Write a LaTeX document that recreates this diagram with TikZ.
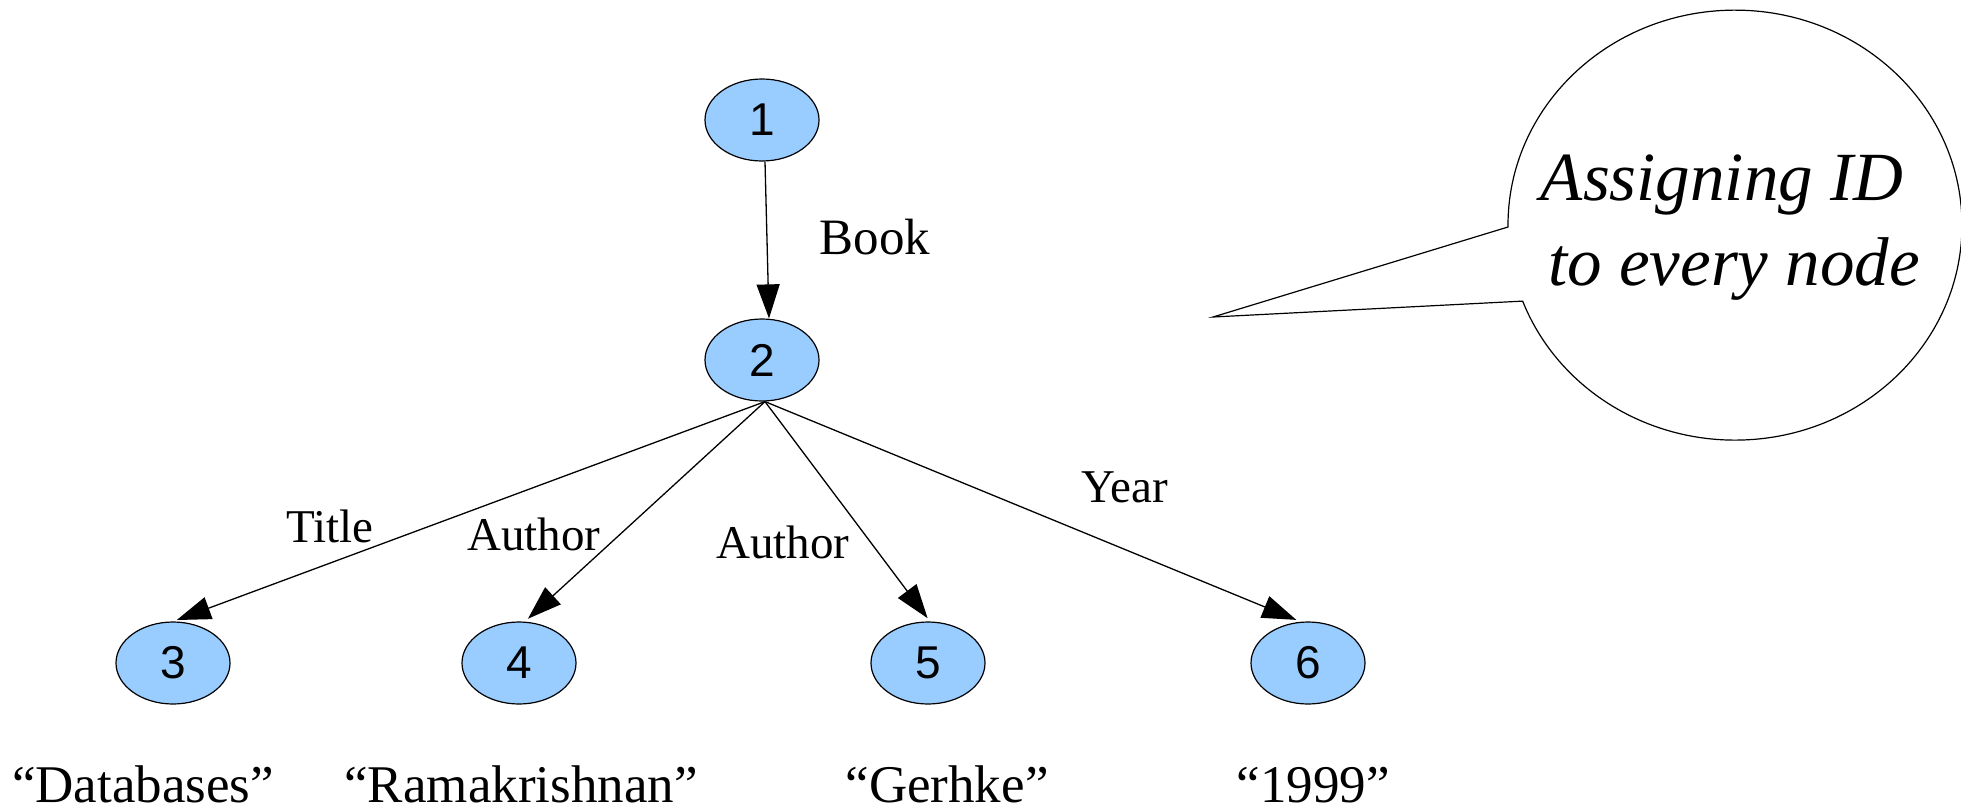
\documentclass[tikz,border=0pt]{standalone}
\usepackage{fontspec}
\setmainfont{Liberation Serif}
\newfontfamily\digitfont{Liberation Sans}
\newfontfamily\notefont{Liberation Serif Italic}
\usetikzlibrary{shapes.geometric,arrows.meta}
\definecolor{idblue}{HTML}{99CCFF}
\begin{document}
\begin{tikzpicture}[x=1pt,y=-1pt,
  idnode/.style={ellipse,draw=black,line width=1.2pt,fill=idblue,
    minimum width=114pt,minimum height=82pt,inner sep=0pt,
    font=\digitfont\fontsize{46}{50}\selectfont},
  link/.style={line width=1.3pt,-{Triangle[length=34pt,width=23pt]}},
  elabel/.style={anchor=base,inner sep=0pt,font=\fontsize{47}{52}\selectfont},
  vlabel/.style={anchor=base,inner sep=0pt,font=\fontsize{53}{60}\selectfont},
  notetext/.style={anchor=base,inner sep=0pt,font=\notefont\fontsize{69}{80}\selectfont},
  bubble/.style={draw=black,line width=1.2pt,fill=white,line join=miter}]
\useasboundingbox (0,0) rectangle (1961,811);

% speech bubble with its pointer
\coordinate (ptr) at (1213,317);
\coordinate (joinA) at (1508,227);
\draw[bubble] (ptr) -- (joinA)
  arc[start angle=180.5, end angle=-159.3, x radius=227pt, y radius=215pt] -- cycle;
\node[notetext] (note1) at (1722,200) {Assigning ID};
\node[notetext] (note2) at (1734,285) {to every node};

% tree nodes
\node[idnode] (n1) at (762,120) {1};
\node[idnode] (n2) at (762,360) {2};
\node[idnode] (n3) at (173,663) {3};
\node[idnode] (n4) at (519,663) {4};
\node[idnode] (n5) at (928,663) {5};
\node[idnode] (n6) at (1308,663) {6};

% edges
\draw[link] ([xshift=3pt]n1.south) -- ([xshift=7pt]n2.north);
\draw[link,shorten >=4pt] ([xshift=3pt]n2.south) -- (n3.north);
\draw[link,shorten >=4pt] ([xshift=3pt]n2.south) -- ([xshift=6pt]n4.north);
\draw[link,shorten >=4pt] ([xshift=3pt]n2.south) -- ([xshift=2pt]n5.north);
\draw[link,shorten >=4pt] ([xshift=3pt]n2.south) -- ([xshift=-8pt]n6.north);

% edge labels
\node[elabel,font=\fontsize{51}{56}\selectfont] (lbook) at (875,254) {Book};
\node[elabel] (ltitle) at (330,542) {Title};
\node[elabel] (lauth1) at (534,550) {Author};
\node[elabel] (lauth2) at (783,558) {Author};
\node[elabel] (lyear) at (1125,502) {Year};

% values
\node[vlabel] (v3) at (143,802) {“Databases”};
\node[vlabel] (v4) at (521,802) {“Ramakrishnan”};
\node[vlabel] (v5) at (947,802) {“Gerhke”};
\node[vlabel] (v6) at (1313,802) {“1999”};
\end{tikzpicture}
\end{document}
